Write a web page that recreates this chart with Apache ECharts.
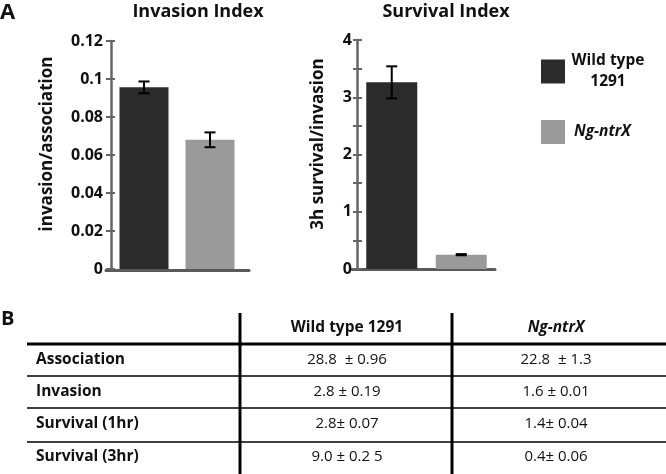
<!DOCTYPE html>
<html><head><meta charset="utf-8">
<script src="https://cdn.jsdelivr.net/npm/echarts@6/dist/echarts.min.js"></script>
<style>html,body{margin:0;padding:0;background:#fff}#c{width:666px;height:474px}</style>
</head><body><div id="c"></div>
<script>
// ---- data ----
const strains = ['Wild type 1291', 'Ng-ntrX'];
const invasionIndex = [0.0956, 0.068];
const invasionErr = [0.0031, 0.0039];
const survivalIndex = [3.26, 0.25];
const survivalErr = [0.28, 0.01];
const invasionAxis = { min: 0, max: 0.12, interval: 0.02 };
const survivalAxis = { min: 0, max: 4, interval: 0.5 };
const tableRowLabels = ['Association', 'Invasion', 'Survival (1hr)', 'Survival (3hr)'];
const tableWT = ['28.8  \u00b1 0.96', '2.8 \u00b1 0.19', '2.8\u00b1 0.07', '9.0 \u00b1 0.2 5'];
const tableMut = ['22.8  \u00b1 1.3', '1.6 \u00b1 0.01', '1.4\u00b1 0.04', '0.4\u00b1 0.06'];

// ---- style ----
const FONT = '"Open Sans", "Noto Sans", sans-serif';
const DARK = '#2b2b2b', GRAY = '#9a9a9a', AXIS = '#666666';
const colors = [DARK, GRAY];

const chart = echarts.init(document.getElementById('c'), null, { renderer: 'canvas' });

function barSeries(axisIdx, yIdx, values, width) {
  return strains.map((name, j) => ({
    type: 'bar', name, xAxisIndex: axisIdx, yAxisIndex: yIdx,
    barWidth: width, barGap: '-100%',
    itemStyle: { color: colors[j] },
    data: values.map((v, i) => (i === j ? v : '-')),
    z: 2
  }));
}
function errSeries(axisIdx, yIdx, values, errs) {
  return {
    type: 'custom', xAxisIndex: axisIdx, yAxisIndex: yIdx, z: 5,
    data: values.map((v, i) => [i, v - errs[i], v + errs[i]]),
    encode: { x: 0, y: [1, 2] },
    renderItem: (params, api) => {
      const lo = api.coord([api.value(0), api.value(1)]);
      const hi = api.coord([api.value(0), api.value(2)]);
      const hw = 5.5;
      const st = { stroke: '#000', lineWidth: 2 };
      return { type: 'group', children: [
        { type: 'line', shape: { x1: lo[0], y1: lo[1], x2: hi[0], y2: hi[1] }, style: st },
        { type: 'line', shape: { x1: lo[0] - hw, y1: lo[1], x2: lo[0] + hw, y2: lo[1] }, style: st },
        { type: 'line', shape: { x1: hi[0] - hw, y1: hi[1], x2: hi[0] + hw, y2: hi[1] }, style: st }
      ]};
    }
  };
}

const catAxis = (g) => ({ type: 'category', gridIndex: g, data: strains,
  axisLine: { show: false }, axisTick: { show: false }, axisLabel: { show: false } });
const frameAxis = (g) => ({ type: 'value', gridIndex: g, min: 0, max: 1,
  axisLine: { show: true, lineStyle: { color: '#5a5a5a', width: 3 } },
  axisTick: { show: false }, axisLabel: { show: false }, splitLine: { show: false } });
const hiddenY = (g) => ({ type: 'value', gridIndex: g, show: false, min: 0, max: 1 });

const labelStyle = { color: '#111', fontFamily: FONT, fontWeight: 'bold', fontSize: 16 };

// table graphics
const tbl = [];
const rowY = [360, 392, 424, 457];
const col1X = 347, col2X = 556, labelX = 36;
tbl.push({ type: 'text', left: 1, top: 309, style: { text: 'B', font: 'bold 20px ' + FONT, fill: '#111' } });
tbl.push({ type: 'text', x: col1X, y: 328, style: { text: strains[0], font: 'bold 15.5px ' + FONT, fill: '#111', textAlign: 'center', textVerticalAlign: 'middle' } });
tbl.push({ type: 'text', x: col2X, y: 328, style: { text: strains[1], font: 'italic bold 15.5px ' + FONT, fill: '#111', textAlign: 'center', textVerticalAlign: 'middle' } });
tbl.push({ type: 'line', shape: { x1: 27, y1: 344, x2: 666, y2: 344 }, style: { stroke: '#000', lineWidth: 3 } });
[376, 408, 442].forEach(y => tbl.push({ type: 'line', shape: { x1: 27, y1: y, x2: 666, y2: y }, style: { stroke: '#000', lineWidth: 1.6 } }));
[240, 452].forEach(x => tbl.push({ type: 'line', shape: { x1: x, y1: 313, x2: x, y2: 474 }, style: { stroke: '#000', lineWidth: 3 } }));
tableRowLabels.forEach((lab, i) => {
  tbl.push({ type: 'text', x: labelX, y: rowY[i], style: { text: lab, font: 'bold 15.5px ' + FONT, fill: '#111', textAlign: 'left', textVerticalAlign: 'middle' } });
  tbl.push({ type: 'text', x: col1X, y: rowY[i], style: { text: tableWT[i], font: '15px ' + FONT, fill: '#111', textAlign: 'center', textVerticalAlign: 'middle' } });
  tbl.push({ type: 'text', x: col2X, y: rowY[i], style: { text: tableMut[i], font: '15px ' + FONT, fill: '#111', textAlign: 'center', textVerticalAlign: 'middle' } });
});

const option = {
  animation: false,
  backgroundColor: '#fff',
  grid: [
    { left: 111, top: 41, width: 132, height: 228 },
    { left: 357, top: 40, width: 139, height: 229 },
    { left: 106, top: 41, width: 143, height: 229 },
    { left: 352, top: 40, width: 143, height: 229.5 }
  ],
  xAxis: [catAxis(0), catAxis(1), frameAxis(2), frameAxis(3)],
  yAxis: [
    { type: 'value', gridIndex: 0, position: 'left', ...invasionAxis,
      axisLine: { show: true, lineStyle: { color: AXIS, width: 2.5 } },
      axisTick: { show: true, inside: false, length: 5, lineStyle: { color: AXIS, width: 2 } },
      axisLabel: { ...labelStyle, margin: 8 }, splitLine: { show: false } },
    { type: 'value', gridIndex: 0, position: 'left', offset: 0, ...invasionAxis,
      axisLine: { show: false }, axisTick: { show: true, inside: true, length: 4, lineStyle: { color: AXIS, width: 2 } },
      axisLabel: { show: false }, splitLine: { show: false } },
    { type: 'value', gridIndex: 1, position: 'left', ...survivalAxis,
      axisLine: { show: true, lineStyle: { color: AXIS, width: 2.5 } },
      axisTick: { show: true, inside: false, length: 4, lineStyle: { color: AXIS, width: 2 } },
      axisLabel: { ...labelStyle, margin: 5, formatter: v => (v % 1 === 0 ? String(v) : '') }, splitLine: { show: false } },
    { type: 'value', gridIndex: 1, position: 'left', offset: 0, ...survivalAxis,
      axisLine: { show: false }, axisTick: { show: true, inside: true, length: 5, lineStyle: { color: AXIS, width: 2 } },
      axisLabel: { show: false }, splitLine: { show: false } },
    hiddenY(2), hiddenY(3)
  ],
  legend: [
    { data: [strains[0]], orient: 'vertical', left: 536, top: 48, itemWidth: 24, itemHeight: 24, icon: 'rect',
      selectedMode: false,
      formatter: () => '{a|Wild type}\n{a|1291}',
      textStyle: { rich: { a: { fontFamily: FONT, fontWeight: 'bold', fontSize: 15.5, color: '#111', width: 76, align: 'center', lineHeight: 21 } } } },
    { data: [strains[1]], orient: 'vertical', left: 536, top: 115, itemWidth: 24, itemHeight: 24, icon: 'rect',
      selectedMode: false,
      textStyle: { fontFamily: FONT, fontWeight: 'bold', fontStyle: 'italic', fontSize: 15.5, color: '#111', padding: [0, 0, 0, 4] } }
  ],
  graphic: [
    { type: 'text', left: 0, top: 2, style: { text: 'A', font: 'bold 22px ' + FONT, fill: '#111' } },
    { type: 'text', x: 198, y: 12, style: { text: 'Invasion Index', font: 'bold 18px ' + FONT, fill: '#111', textAlign: 'center', textVerticalAlign: 'middle' } },
    { type: 'text', x: 446, y: 12, style: { text: 'Survival Index', font: 'bold 18px ' + FONT, fill: '#111', textAlign: 'center', textVerticalAlign: 'middle' } },
    { type: 'text', x: 47, y: 144, rotation: Math.PI / 2, style: { text: 'invasion/association', font: 'bold 17px ' + FONT, fill: '#111', textAlign: 'center', textVerticalAlign: 'middle' } },
    { type: 'text', x: 318, y: 144, rotation: Math.PI / 2, style: { text: '3h survival/invasion', font: 'bold 17px ' + FONT, fill: '#111', textAlign: 'center', textVerticalAlign: 'middle' } },
    ...tbl
  ],
  series: [
    ...barSeries(0, 0, invasionIndex, 49),
    errSeries(0, 0, invasionIndex, invasionErr),
    ...barSeries(1, 2, survivalIndex, 51),
    errSeries(1, 2, survivalIndex, survivalErr)
  ]
};
chart.setOption(option);
</script></body></html>
